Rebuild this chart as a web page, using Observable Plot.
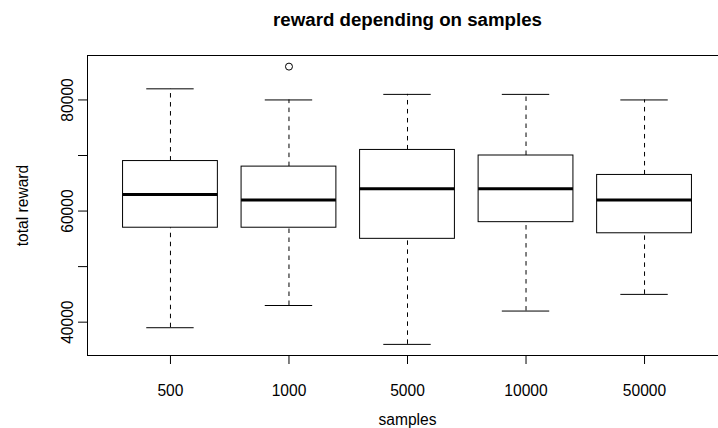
<!DOCTYPE html>
<html>
<head>
<meta charset="utf-8">
<script src="https://cdn.jsdelivr.net/npm/d3@7"></script>
<script src="https://cdn.jsdelivr.net/npm/@observablehq/plot@0.6"></script>
<style>
  html, body { margin: 0; padding: 0; background: white; overflow: hidden; }
  svg { max-width: none !important; display: block; }
</style>
</head>
<body>
<div id="chart"></div>
<script>
const samples = ["500", "1000", "5000", "10000", "50000"];
const mins    = [39000, 43000, 36000, 42000, 45000];
const q1s     = [57000, 57000, 55000, 58000, 56000];
const medians = [63000, 62000, 64000, 64000, 62000];
const q3s     = [69000, 68000, 71000, 70000, 66500];
const maxs    = [82000, 80000, 81000, 81000, 80000];
const outlierSamples = ["1000"];
const outlierValues  = [86000];
const yTicks = [40000, 50000, 60000, 70000, 80000];
const yLabelled = [40000, 60000, 80000];

const boxes = samples.map((s, i) => ({
  sample: s, pos: i + 1,
  min: mins[i], q1: q1s[i], median: medians[i], q3: q3s[i], max: maxs[i]
}));
const outliers = outlierSamples.map((s, i) => ({pos: samples.indexOf(s) + 1, value: outlierValues[i]}));

const font = "Liberation Sans, Arial, Helvetica, sans-serif";

const chart = Plot.plot({
  width: 727,
  height: 428,
  marginLeft: 87,
  marginRight: 0,
  marginTop: 55,
  marginBottom: 73,
  style: {fontFamily: font, background: "white", maxWidth: "none"},
  x: {type: "linear", domain: [0.3, 5.7]},
  y: {type: "linear", domain: [34000, 88000]},
  marks: [
    Plot.ruleX(boxes, {x: "pos", y1: "q3", y2: "max", stroke: "black", strokeWidth: 1, strokeDasharray: "4.5,4.5"}),
    Plot.ruleX(boxes, {x: "pos", y1: "min", y2: "q1", stroke: "black", strokeWidth: 1, strokeDasharray: "4.5,4.5"}),
    Plot.ruleY(boxes, {y: "max", x1: d => d.pos - 0.2, x2: d => d.pos + 0.2, stroke: "black", strokeWidth: 1}),
    Plot.ruleY(boxes, {y: "min", x1: d => d.pos - 0.2, x2: d => d.pos + 0.2, stroke: "black", strokeWidth: 1}),
    Plot.rect(boxes, {x1: d => d.pos - 0.4, x2: d => d.pos + 0.4, y1: "q1", y2: "q3", fill: "white", stroke: "black", strokeWidth: 1}),
    Plot.ruleY(boxes, {y: "median", x1: d => d.pos - 0.4, x2: d => d.pos + 0.4, stroke: "black", strokeWidth: 3}),
    Plot.dot(outliers, {x: "pos", y: "value", r: 3.5, stroke: "black", fill: "none", strokeWidth: 1}),
    Plot.frame({stroke: "black", strokeWidth: 1}),
    Plot.axisX({
      ticks: samples.map((s, i) => i + 1),
      tickFormat: i => samples[i - 1],
      tickSize: 9,
      tickPadding: 20,
      fontSize: 15.6,
      label: "samples",
      labelAnchor: "center",
      labelOffset: 69,
      labelArrow: "none",
      stroke: "black"
    }),
    Plot.axisY({
      ticks: yTicks,
      tickFormat: d => yLabelled.includes(d) ? String(d) : "",
      tickSize: 9,
      tickPadding: 5.5,
      tickRotate: -90,
      fontSize: 15.6,
      label: "total reward",
      labelAnchor: "center",
      labelOffset: 71,
      labelArrow: "none",
      stroke: "black"
    }),
    Plot.text(["reward depending on samples"], {
      frameAnchor: "top", dy: -35, lineAnchor: "middle",
      text: d => d, fontWeight: "bold", fontSize: 18.7, fill: "black"
    })
  ]
});
document.getElementById("chart").appendChild(chart);
</script>
</body>
</html>
